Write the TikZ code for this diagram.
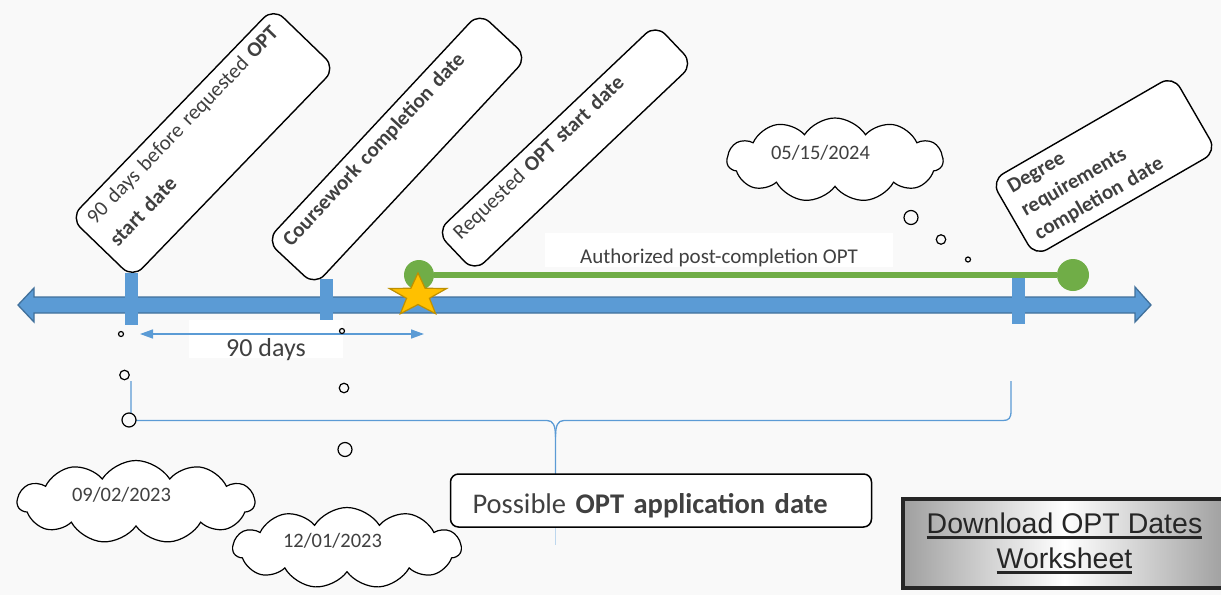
\documentclass[tikz,border=0pt]{standalone}
\usepackage{fontspec}
\setmainfont{Carlito}
\newfontfamily\linkfont{Liberation Sans}
\usetikzlibrary{shapes.symbols,arrows.meta}
\definecolor{bgcol}{HTML}{F9F9F9}
\definecolor{axisblue}{HTML}{5B9BD5}
\definecolor{axisedge}{HTML}{41719C}
\definecolor{optgreen}{HTML}{70AD47}
\definecolor{stargold}{HTML}{FFC000}
\definecolor{staredge}{HTML}{BF9000}
\definecolor{textgray}{HTML}{404040}
\definecolor{linkedge}{HTML}{262626}
\newcommand{\wsline}[1]{\setbox0\hbox{#1}\rlap{\rule[-5pt]{\wd0}{2.4pt}}\box0}

\tikzset{
  datebox/.style={draw, line width=1.4pt, fill=white, rounded corners=14pt,
    text=textgray, align=left, inner xsep=12pt, inner ysep=8pt,
    font=\fontsize{21}{32}\selectfont},
  cloudbox/.style={cloud, cloud puffs=11, cloud puff arc=115, cloud ignores aspect,
    draw, line width=1.2pt, fill=white, text=textgray, text width=128pt,
    align=left, text depth=15pt, font=\fontsize{20.5}{24}\selectfont},
  bubble/.style={draw, circle, line width=1.2pt, fill=bgcol, inner sep=0pt},
  whitetag/.style={fill=white, inner sep=0pt, text=textgray},
}

\begin{document}
\begin{tikzpicture}[x=1pt, y=-1pt]
  \fill[bgcol] (0,0) rectangle (1221,595);
  \useasboundingbox (0,0) rectangle (1221,595);

      %%  tilted date boxes %%
  \node[datebox, rotate=46, text width=268pt, text depth=56pt] (before) at (203,143)
    {90 days before requested \textbf{OPT}\\ \textbf{start date}};
  \node[datebox, rotate=47, text width=288pt, text depth=35pt,
    font=\fontsize{21}{32}\selectfont\bfseries] (course) at (397,149)
    {Coursework completion date};
  \node[datebox, rotate=43.5, text width=278pt, text depth=24pt] (request) at (565,148)
    {Requested \textbf{OPT start date}};
  \node[datebox, rotate=30, text width=186pt, text depth=58pt,
    font=\fontsize{21}{27}\selectfont\bfseries] (degree) at (1104,166)
    {Degree\\ requirements\\ completion date};

      %%  clouds %%
  \node[cloudbox, minimum width=237pt, minimum height=83pt] (fall) at (136,502) {09/02/2023};
  \node[cloudbox, minimum width=228pt, minimum height=81pt] (winter) at (347,548) {12/01/2023};
  \node[cloudbox, minimum width=216pt, minimum height=84pt] (spring) at (835,160) {05/15/2024};

      %%  time line %%
  \filldraw[fill=axisblue, draw=axisedge, line width=1.3pt]
    (18,305) -- (34,288) -- (34,297) -- (1135,297) -- (1135,287) -- (1151,305)
    -- (1135,322) -- (1135,313) -- (34,313) -- (34,322) -- cycle;
  \fill[axisblue] (125,273) rectangle (138,325);
  \fill[axisblue] (320,279) rectangle (333,325);
  \fill[axisblue] (1012,273) rectangle (1025,324);

  \node (start) at (419,275) [circle, fill=optgreen, minimum size=30pt, inner sep=0pt] {};
  \node (finish) at (1073,275) [circle, fill=optgreen, minimum size=32pt, inner sep=0pt] {};
  \draw[optgreen, line width=6pt] (start) -- (finish);

  \filldraw[fill=stargold, draw=staredge, line width=1.2pt] (418,295.5)
    +(-90:30 and 22.5) -- +(-54:12 and 9) -- +(-18:30 and 22.5) -- +(18:12 and 9)
    -- +(54:30 and 22.5) -- +(90:12 and 9) -- +(126:30 and 22.5) -- +(162:12 and 9)
    -- +(198:30 and 22.5) -- +(234:12 and 9) -- cycle;

  \node[whitetag, minimum width=348pt, minimum height=34pt, text height=28pt,
    text depth=2pt, font=\fontsize{21}{24}\selectfont] (auth) at (719,250)
    {Authorized post-completion OPT};

      %%  90 days span %%
  \node[whitetag, minimum width=154pt, minimum height=38pt, text height=36pt,
    text depth=2pt, font=\fontsize{26}{30}\selectfont] (span) at (266,339) {90 days};
  \coordinate (span0) at (140,334);
  \coordinate (span1) at (424,334);
  \draw[axisblue, line width=1.5pt, {Triangle[length=13pt,width=9pt]}-{Triangle[length=13pt,width=9pt]}]
    (span0) -- (span1);

      %%  brace %%
  \coordinate (bl) at (131,381);
  \coordinate (br) at (1011,381);
  \coordinate (bm) at (555.5,474);
  \coordinate (bend) at (555.5,545);
  \draw[axisblue, line width=1.3pt] (bl) -- (131,412) .. controls (131,419) and (133,420.5) .. (138,420.5)
    -- (547,420.5) .. controls (553,420.5) and (555.5,425) .. (555.5,437) -- (bm);
  \draw[axisblue, line width=1.3pt] (555.5,437) .. controls (555.5,425) and (558,420.5) .. (564,420.5)
    -- (1003,420.5) .. controls (1009,420.5) and (1011,418) .. (1011,411) -- (br);
  \draw[axisblue!40, line width=1pt] (bm) -- (bend);

      %%  thought bubbles %%
  \foreach \j/\x/\y/\s in {a/121/334/5, b/124.5/375/9.5, c/129/420/14}
  { \node (fall\j) at (\x,\y) [bubble, minimum size=\s pt] {};}
  \foreach \j/\x/\y/\s in {a/342/331/5, b/344/388/9.5, c/345/449.5/14}
  { \node (winter\j) at (\x,\y) [bubble, minimum size=\s pt] {};}
  \foreach \j/\x/\y/\s in {a/968/259.5/5, b/941/239.5/9.5, c/911/217.5/14}
  { \node (spring\j) at (\x,\y) [bubble, minimum size=\s pt] {};}

      %%  application window %%
  \node[draw, line width=1.5pt, fill=white, rounded corners=8pt, minimum width=421pt,
    minimum height=53pt, text width=377pt, inner xsep=22pt, align=left, text=textgray,
    text height=30pt, text depth=5pt, font=\fontsize{28.5}{32}\selectfont] (apply) at (661,500.5)
    {Possible \textbf{OPT application date}};

  \node[draw=linkedge, line width=4pt, left color=gray!75, right color=gray!75, middle color=white,
    minimum width=323pt, minimum height=89pt, inner sep=0pt, align=center, text=linkedge,
    font=\linkfont\fontsize{28.5}{35}\selectfont] (sheet) at (1064.5,543.3)
    {\wsline{Download OPT Dates}\\ \wsline{Worksheet}};

\end{tikzpicture}
\end{document}
